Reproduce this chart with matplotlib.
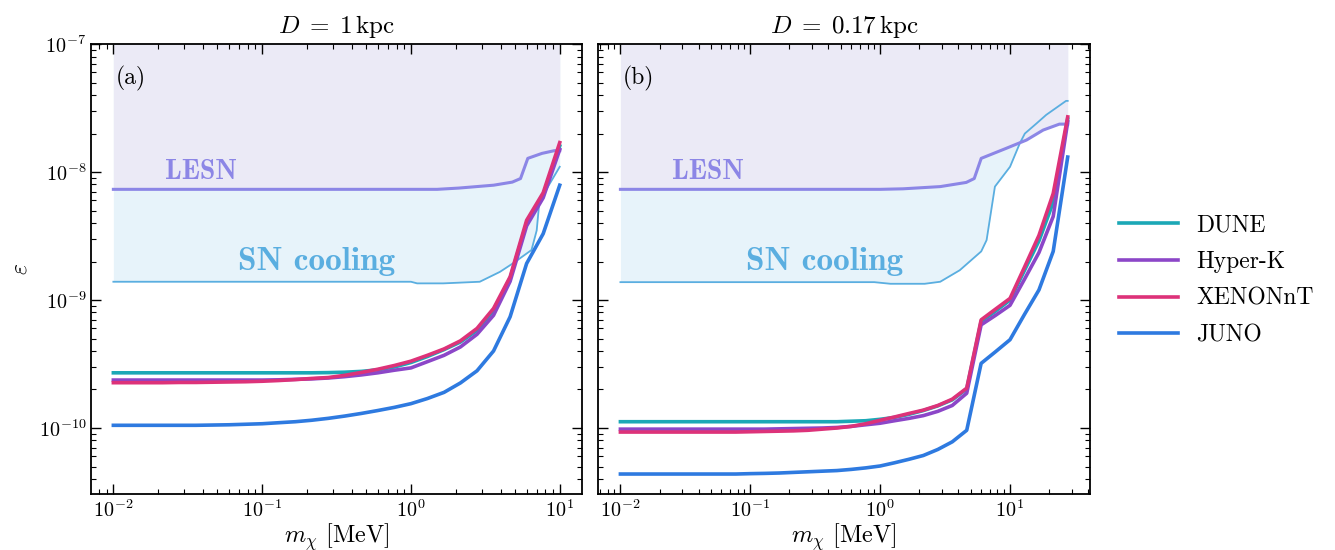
import matplotlib
matplotlib.use('Agg')
import matplotlib.pyplot as plt
import numpy as np

plt.rcParams['font.family'] = 'serif'
plt.rcParams['font.serif'] = ['cmr10']
plt.rcParams['mathtext.fontset'] = 'cm'
plt.rcParams['axes.formatter.use_mathtext'] = True
plt.rcParams['axes.unicode_minus'] = False

# mass grid [MeV]
mass_left = [0.01, 0.0129, 0.0167, 0.0215, 0.0278, 0.0359, 0.0464, 0.0599, 0.0774,
             0.1, 0.129, 0.167, 0.215, 0.278, 0.359, 0.464, 0.599, 0.774,
             1.0, 1.29, 1.67, 2.15, 2.78, 3.59, 4.64, 5.99, 7.74, 10.0]
mass_right = mass_left + [12.9, 16.7, 21.5, 27.8]

# (a) D = 1 kpc
dune_a = [2.70e-10, 2.70e-10, 2.70e-10, 2.70e-10, 2.70e-10, 2.70e-10, 2.70e-10, 2.70e-10, 2.70e-10,
          2.70e-10, 2.70e-10, 2.70e-10, 2.70e-10, 2.71e-10, 2.73e-10, 2.77e-10, 2.85e-10, 3.00e-10,
          3.25e-10, 3.62e-10, 4.10e-10, 4.70e-10, 5.80e-10, 8.30e-10, 1.48e-9, 4.0e-9, 6.6e-9, 1.6e-8]
hyperk_a = [2.37e-10, 2.37e-10, 2.37e-10, 2.37e-10, 2.37e-10, 2.37e-10, 2.37e-10, 2.37e-10, 2.37e-10,
            2.37e-10, 2.38e-10, 2.40e-10, 2.42e-10, 2.46e-10, 2.52e-10, 2.60e-10, 2.70e-10, 2.83e-10,
            2.95e-10, 3.30e-10, 3.70e-10, 4.30e-10, 5.40e-10, 7.60e-10, 1.40e-9, 3.8e-9, 6.3e-9, 1.5e-8]
xenon_a = [2.26e-10, 2.26e-10, 2.26e-10, 2.26e-10, 2.27e-10, 2.27e-10, 2.28e-10, 2.29e-10, 2.30e-10,
           2.32e-10, 2.35e-10, 2.39e-10, 2.44e-10, 2.48e-10, 2.58e-10, 2.72e-10, 2.88e-10, 3.08e-10,
           3.33e-10, 3.70e-10, 4.15e-10, 4.80e-10, 6.00e-10, 8.60e-10, 1.52e-9, 4.2e-9, 6.9e-9, 1.7e-8]
juno_a = [1.05e-10, 1.05e-10, 1.05e-10, 1.05e-10, 1.05e-10, 1.05e-10, 1.055e-10, 1.06e-10, 1.07e-10,
          1.08e-10, 1.10e-10, 1.12e-10, 1.15e-10, 1.19e-10, 1.24e-10, 1.30e-10, 1.37e-10, 1.45e-10,
          1.55e-10, 1.70e-10, 1.90e-10, 2.25e-10, 2.80e-10, 4.00e-10, 7.4e-10, 1.93e-9, 3.3e-9, 7.9e-9]

lesn_mass_a = [0.01, 1.5, 2.1, 3.6, 4.8, 5.45, 6.1, 7.6, 9.2, 10.0]
lesn_a = [7.33e-9, 7.33e-9, 7.5e-9, 7.9e-9, 8.35e-9, 8.9e-9, 1.28e-8, 1.4e-8, 1.47e-8, 1.47e-8]
cool_mass_a = [0.01, 1.0, 1.1, 1.65, 2.9, 3.96, 4.86, 6.46, 7.0, 7.3, 8.5, 10.0]
cool_a = [1.39e-9, 1.39e-9, 1.35e-9, 1.35e-9, 1.39e-9, 1.66e-9, 1.94e-9, 2.46e-9, 3.5e-9, 5.9e-9, 8.0e-9, 1.1e-8]

# (b) D = 0.17 kpc
dune_b = [1.12e-10] * 15 + [1.12e-10, 1.13e-10, 1.14e-10, 1.17e-10, 1.21e-10, 1.28e-10, 1.37e-10,
                            1.49e-10, 1.66e-10, 2.02e-10, 6.8e-10, 8.2e-10, 1.0e-9, 1.7e-9, 2.9e-9,
                            5.8e-9, 2.6e-8]
hyperk_b = [9.8e-11] * 11 + [9.85e-11, 9.9e-11, 9.95e-11, 1.0e-10, 1.01e-10, 1.03e-10, 1.06e-10,
                             1.09e-10, 1.14e-10, 1.19e-10, 1.25e-10, 1.35e-10, 1.5e-10, 1.87e-10,
                             6.4e-10, 7.6e-10, 9.1e-10, 1.45e-9, 2.35e-9, 4.5e-9, 2.47e-8]
xenon_b = [9.3e-11] * 9 + [9.35e-11, 9.4e-11, 9.45e-11, 9.5e-11, 9.6e-11, 9.8e-11, 1.0e-10, 1.03e-10,
                           1.08e-10, 1.15e-10, 1.22e-10, 1.3e-10, 1.38e-10, 1.5e-10, 1.68e-10,
                           2.05e-10, 7.0e-10, 8.5e-10, 1.03e-9, 1.8e-9, 3.2e-9, 6.8e-9, 2.7e-8]
juno_b = [4.37e-11] * 9 + [4.4e-11, 4.42e-11, 4.45e-11, 4.5e-11, 4.55e-11, 4.6e-11, 4.65e-11, 4.75e-11,
                           4.88e-11, 5.05e-11, 5.35e-11, 5.7e-11, 6.1e-11, 6.8e-11, 7.8e-11, 9.6e-11,
                           3.2e-10, 3.95e-10, 4.9e-10, 7.7e-10, 1.2e-9, 2.4e-9, 1.31e-8]

lesn_mass_b = [0.01, 1.0, 1.5, 2.9, 4.6, 5.3, 6.0, 9.3, 13.4, 18.0, 24.0, 27.8]
lesn_b = [7.33e-9, 7.33e-9, 7.4e-9, 7.7e-9, 8.3e-9, 8.9e-9, 1.28e-8, 1.53e-8, 1.78e-8, 2.13e-8, 2.37e-8, 2.37e-8]
cool_mass_b = [0.01, 0.9, 1.2, 2.2, 2.9, 4.1, 6.0, 6.6, 7.65, 10.0, 11.9, 13.0, 16.0, 19.0, 27.0, 27.8]
cool_b = [1.38e-9, 1.38e-9, 1.34e-9, 1.34e-9, 1.39e-9, 1.71e-9, 2.4e-9, 2.94e-9, 7.7e-9, 1.1e-8,
          1.68e-8, 2.0e-8, 2.4e-8, 2.8e-8, 3.6e-8, 3.6e-8]

names = ['DUNE', 'Hyper-K', 'XENONnT', 'JUNO']
colors = ['#1ba8b6', '#8c46c8', '#dd3279', '#2e7ae0']
lesn_color = '#8c86e6'
cool_color = '#5aaee0'

fig = plt.figure(figsize=(13.35, 5.5), dpi=100)
ax1 = fig.add_axes([0.0682, 0.1018, 0.3678, 0.818])
ax2 = fig.add_axes([0.448, 0.1018, 0.3685, 0.818], sharey=ax1)

panels = [
    (ax1, mass_left, [dune_a, hyperk_a, xenon_a, juno_a], lesn_mass_a, lesn_a, cool_mass_a, cool_a,
     r'$D\;=\;1\,\mathrm{kpc}$', '(a)', (10**-2.15, 10**1.15)),
    (ax2, mass_right, [dune_b, hyperk_b, xenon_b, juno_b], lesn_mass_b, lesn_b, cool_mass_b, cool_b,
     r'$D\;=\;0.17\,\mathrm{kpc}$', '(b)', (10**-2.172, 10**1.616)),
]

for ax, m, curves, lm, lv, cm, cv, title, tag, xl in panels:
    ax.set_xscale('log')
    ax.set_yscale('log')
    # excluded regions
    ax.fill_between(cm, cv, 1e-7, color='#e7f3fa', lw=0, zorder=1)
    ax.fill_between(lm, lv, 1e-7, color='#ebeaf6', lw=0, zorder=1.5)
    ax.plot(cm, cv, color=cool_color, lw=1.3, zorder=2)
    ax.plot(lm, lv, color=lesn_color, lw=2.2, zorder=2)
    for vals, name, c in zip(curves, names, colors):
        ax.plot(m, vals, color=c, lw=2.6, label=name, zorder=3)
    ax.text(0.151, 0.716, 'LESN', family='cmb10', color=lesn_color, fontsize=20,
            transform=ax.transAxes, ha='left', va='center')
    ax.text(0.30, 0.516, 'SN cooling', family='cmb10', color=cool_color, fontsize=24,
            transform=ax.transAxes, ha='left', va='center')
    ax.text(0.05, 0.924, tag, fontsize=17, transform=ax.transAxes, ha='left', va='center')
    ax.set_title(title, fontsize=18, pad=8)
    ax.set_xlabel(r'$m_\chi$ [MeV]', fontsize=17.5, labelpad=0.5)
    ax.set_xlim(xl)
    ax.tick_params(which='both', direction='in', top=True, right=True, labelsize=14.5)
    ax.tick_params(which='major', length=7, width=1.0)
    ax.tick_params(which='minor', length=3.5, width=0.8)
    for s in ax.spines.values():
        s.set_linewidth(1.3)

ax1.set_ylim(3.05e-11, 1e-7)
ax1.set_ylabel(r'$\varepsilon$', fontsize=17, labelpad=5)
ax2.tick_params(labelleft=False)

handles, labels = ax1.get_legend_handles_labels()
fig.legend(handles, labels, loc='center left', bbox_to_anchor=(0.822, 0.490),
           frameon=False, fontsize=17, handlelength=2.5, labelspacing=0.62)

plt.savefig('out.png', dpi=100)
